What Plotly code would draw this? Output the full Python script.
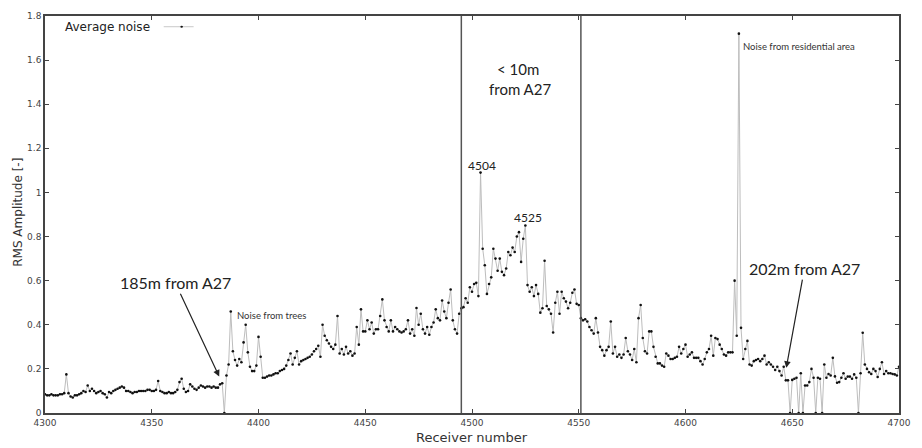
import plotly.graph_objects as go

# ---------------- data ----------------
receivers = list(range(4300, 4701))
rms_amplitude = (
    [0.085, 0.08, 0.08, 0.085, 0.08, 0.08, 0.08, 0.085, 0.085, 0.09]      # 4300
    + [0.175, 0.09, 0.075, 0.07, 0.08, 0.08, 0.085, 0.09, 0.1, 0.095]   # 4310
    + [0.125, 0.1, 0.11, 0.1, 0.09, 0.095, 0.1, 0.09, 0.085, 0.07]      # 4320
    + [0.095, 0.09, 0.1, 0.105, 0.11, 0.115, 0.12, 0.115, 0.1, 0.1]     # 4330
    + [0.095, 0.09, 0.095, 0.095, 0.1, 0.1, 0.1, 0.1, 0.105, 0.105]     # 4340
    + [0.1, 0.1, 0.105, 0.145, 0.1, 0.095, 0.09, 0.09, 0.095, 0.09]     # 4350
    + [0.09, 0.095, 0.105, 0.14, 0.155, 0.11, 0.095, 0.1, 0.13, 0.12]   # 4360
    + [0.11, 0.105, 0.115, 0.125, 0.12, 0.115, 0.12, 0.12, 0.115, 0.12] # 4370
    + [0.115, 0.115, 0.13, 0.135, 0.0, 0.17, 0.22, 0.46, 0.28, 0.24]    # 4380
    + [0.215, 0.245, 0.23, 0.32, 0.40, 0.275, 0.21, 0.19, 0.19, 0.215]  # 4390
    + [0.345, 0.255, 0.16, 0.16, 0.165, 0.17, 0.17, 0.175, 0.18, 0.18]  # 4400
    + [0.19, 0.195, 0.2, 0.215, 0.24, 0.27, 0.22, 0.25, 0.28, 0.22]     # 4410
    + [0.235, 0.24, 0.245, 0.25, 0.255, 0.265, 0.28, 0.29, 0.305, 0.255]  # 4420
    + [0.40, 0.35, 0.33, 0.315, 0.30, 0.29, 0.31, 0.44, 0.27, 0.29]     # 4430
    + [0.265, 0.30, 0.27, 0.28, 0.26, 0.27, 0.39, 0.31, 0.47, 0.37]     # 4440
    + [0.37, 0.42, 0.38, 0.41, 0.36, 0.38, 0.38, 0.44, 0.515, 0.42]     # 4450
    + [0.39, 0.37, 0.42, 0.37, 0.39, 0.38, 0.37, 0.365, 0.37, 0.38]     # 4460
    + [0.42, 0.36, 0.38, 0.35, 0.476, 0.40, 0.45, 0.38, 0.36, 0.39]     # 4470
    + [0.355, 0.39, 0.41, 0.47, 0.43, 0.42, 0.51, 0.46, 0.43, 0.50]     # 4480
    + [0.56, 0.42, 0.38, 0.36, 0.45, 0.475, 0.48, 0.52, 0.50, 0.57]     # 4490
    + [0.55, 0.585, 0.59, 0.53, 1.09, 0.745, 0.67, 0.54, 0.585, 0.615]  # 4500
    + [0.745, 0.70, 0.645, 0.70, 0.64, 0.625, 0.655, 0.73, 0.715, 0.75] # 4510
    + [0.73, 0.80, 0.82, 0.685, 0.79, 0.85, 0.58, 0.55, 0.57, 0.53]     # 4520
    + [0.58, 0.54, 0.455, 0.475, 0.69, 0.485, 0.47, 0.45, 0.365, 0.50]  # 4530
    + [0.55, 0.45, 0.55, 0.52, 0.505, 0.475, 0.50, 0.545, 0.56, 0.495]  # 4540
    + [0.49, 0.43, 0.42, 0.425, 0.415, 0.39, 0.375, 0.36, 0.43, 0.365]  # 4550
    + [0.30, 0.285, 0.26, 0.285, 0.30, 0.415, 0.27, 0.30, 0.255, 0.265] # 4560
    + [0.25, 0.265, 0.34, 0.28, 0.265, 0.24, 0.29, 0.23, 0.43, 0.49]    # 4570
    + [0.34, 0.28, 0.27, 0.37, 0.37, 0.30, 0.255, 0.225, 0.225, 0.215]  # 4580
    + [0.21, 0.27, 0.26, 0.245, 0.245, 0.25, 0.255, 0.30, 0.27, 0.29]   # 4590
    + [0.31, 0.255, 0.265, 0.275, 0.25, 0.25, 0.25, 0.235, 0.22, 0.245] # 4600
    + [0.275, 0.29, 0.35, 0.26, 0.34, 0.335, 0.31, 0.29, 0.265, 0.26]   # 4610
    + [0.275, 0.275, 0.275, 0.60, 0.35, 1.72, 0.386, 0.245, 0.29, 0.327]  # 4620
    + [0.22, 0.215, 0.235, 0.24, 0.245, 0.235, 0.245, 0.26, 0.22, 0.23] # 4630
    + [0.22, 0.21, 0.195, 0.21, 0.19, 0.17, 0.21, 0.148, 0.148, 0.0]    # 4640
    + [0.15, 0.155, 0.16, 0.0, 0.18, 0.0, 0.125, 0.125, 0.14, 0.2]      # 4650
    + [0.16, 0.0, 0.16, 0.155, 0.0, 0.22, 0.16, 0.177, 0.17, 0.25]      # 4660
    + [0.166, 0.137, 0.14, 0.16, 0.18, 0.155, 0.165, 0.165, 0.155, 0.175]  # 4670
    + [0.16, 0.0, 0.18, 0.364, 0.22, 0.2, 0.185, 0.177, 0.2, 0.19]      # 4680
    + [0.163, 0.2, 0.23, 0.177, 0.19, 0.18, 0.18, 0.177, 0.175, 0.17]   # 4690
    + [0.21]                                                            # 4700
)
assert len(receivers) == len(rms_amplitude)

x_tick_vals = [4300, 4350, 4400, 4450, 4500, 4550, 4600, 4650, 4700]
x_tick_text = ["4300", "4350", "4400", "4450", "4500", "4550", "4600", "4650", "4700"]
y_tick_vals = [0, 0.2, 0.4, 0.6, 0.8, 1.0, 1.2, 1.4, 1.6, 1.8]
y_tick_text = ["0", "0.2", "0.4", "0.6", "0.8", "1", "1.2", "1.4", "1.6", "1.8"]

zone_boundaries = [4495, 4551]   # receiver numbers of the "< 10m" zone edges
series_name = "Average noise"

# ---------------- figure ----------------
fig = go.Figure()
fig.add_trace(go.Scatter(
    x=receivers, y=rms_amplitude, mode="lines+markers", name=series_name,
    line=dict(color="#bdbdbd", width=1),
    marker=dict(color="#111111", size=2.6),
    showlegend=False, cliponaxis=True,
))

for b in zone_boundaries:
    fig.add_shape(type="line", xref="x", yref="paper", x0=b, x1=b, y0=0, y1=1,
                  line=dict(color="#555555", width=1.5))

ann_font = "Lato, Open Sans, sans-serif"
annotations = [
    dict(x=4381.6, y=0.165, ax=4361, ay=0.59, axref="x", ayref="y",
         text="185m from A27", showarrow=True, arrowhead=2, arrowsize=1.1,
         arrowwidth=1.2, arrowcolor="#222", font=dict(family=ann_font, size=16, color="#222")),
    dict(x=4647.2, y=0.205, ax=4655.7, ay=0.655, axref="x", ayref="y",
         text="202m from A27", showarrow=True, arrowhead=2, arrowsize=1.1,
         arrowwidth=1.2, arrowcolor="#222", font=dict(family=ann_font, size=16, color="#222")),
    dict(x=4389, y=0.44, text="Noise from trees", showarrow=False, xanchor="left",
         font=dict(family=ann_font, size=9.5, color="#333")),
    dict(x=4626, y=1.66, text="Noise from residential area", showarrow=False, xanchor="left",
         font=dict(family=ann_font, size=9.5, color="#333")),
    dict(x=4504.5, y=1.12, text="4504", showarrow=False,
         font=dict(family=ann_font, size=12, color="#222")),
    dict(x=4526, y=0.887, text="4525", showarrow=False,
         font=dict(family=ann_font, size=12, color="#222")),
    dict(x=4521.6, y=1.56, text="< 10m", showarrow=False,
         font=dict(family=ann_font, size=15, color="#222")),
    dict(x=4522.5, y=1.47, text="from A27", showarrow=False,
         font=dict(family=ann_font, size=15, color="#222")),
    # axis titles
    dict(x=0.5, y=-0.062, xref="paper", yref="paper", text="Receiver number",
         showarrow=False, yanchor="middle",
         font=dict(family="DejaVu Sans", size=13, color="#333")),
    dict(x=-0.0325, y=0.505, xref="paper", yref="paper", text="RMS Amplitude [-]",
         showarrow=False, textangle=-90, xanchor="center", yanchor="middle",
         font=dict(family="DejaVu Sans", size=12, color="#333")),
    # legend label (text before sample, as in the reference)
    dict(x=0.0205, y=0.972, xref="paper", yref="paper", text=series_name,
         showarrow=False, xanchor="left", yanchor="middle",
         font=dict(family="DejaVu Sans", size=12, color="#222")),
]
fig.update_layout(annotations=annotations)

# legend sample line + marker
fig.add_shape(type="line", xref="paper", yref="paper", x0=0.139, x1=0.174, y0=0.973, y1=0.973,
              line=dict(color="#c8c8c8", width=1))
fig.add_shape(type="circle", xref="paper", yref="paper", x0=0.1585, x1=0.1615, y0=0.9705, y1=0.9755,
              fillcolor="#111", line=dict(width=0))

axis_common = dict(
    showgrid=False, zeroline=False, showline=True, linecolor="#444", linewidth=1.5,
    mirror="ticks", ticks="inside", ticklen=4, tickcolor="#444",
    tickfont=dict(family="DejaVu Sans", size=9, color="#444"),
)
fig.update_xaxes(range=[4300, 4700], tickvals=x_tick_vals, ticktext=x_tick_text, **axis_common)
fig.update_yaxes(range=[0, 1.8], tickvals=y_tick_vals, ticktext=y_tick_text, **axis_common)

fig.update_layout(
    width=922, height=448,
    margin=dict(l=45, r=16, t=11, b=35),
    plot_bgcolor="white", paper_bgcolor="white",
    showlegend=False,
)

fig.write_html("out.html")
